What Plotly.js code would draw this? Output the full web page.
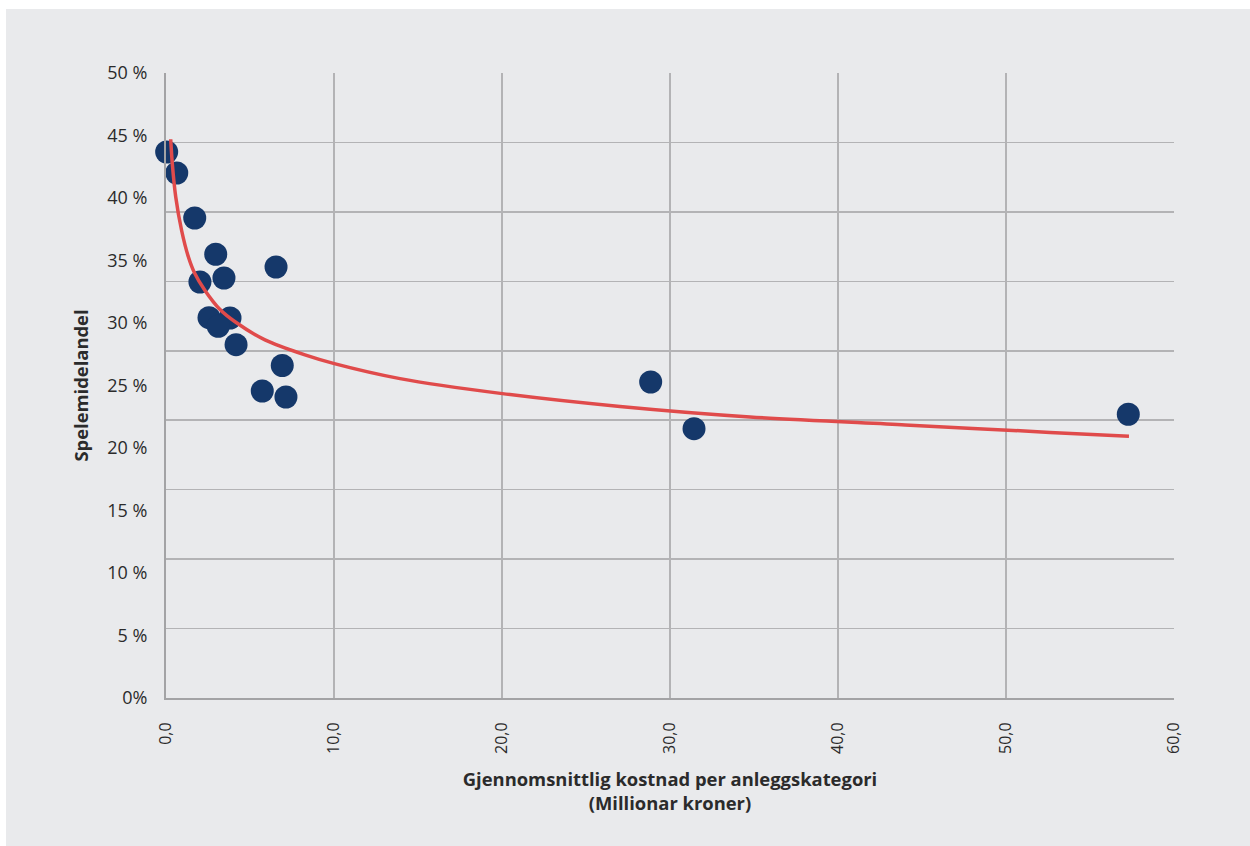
<!DOCTYPE html>
<html><head><meta charset="utf-8">
<script src="https://cdn.plot.ly/plotly-3.0.1.min.js"></script>
<style>
html,body{margin:0;padding:0;background:#ffffff;width:1250px;height:846px;overflow:hidden}
#chart{position:absolute;left:6px;top:9px;width:1244px;height:837px}
</style>
</head><body><div id="chart"></div>
<script>
// Average cost per facility category (million NOK) and gaming-fund share
const costX  = [0.04, 0.64, 1.71, 2.96, 2.02, 3.45, 6.55, 2.56, 3.81, 3.11, 4.17, 6.92, 5.73, 7.14, 28.85, 31.43, 57.28];
const shareY = [0.4368, 0.420, 0.384, 0.355, 0.3328, 0.336, 0.3448, 0.3043, 0.304, 0.2974, 0.2827, 0.266, 0.2456, 0.2408, 0.2528, 0.2155, 0.227];

// Trend line
const trendX = [0.28, 0.375, 0.58, 0.93, 1.33, 1.7, 2.32, 3.2, 4.11, 5.89, 8.27, 10.02, 13.93, 20.02, 27.02, 34.76, 44.0, 52.62, 57.32];
const trendY = [0.447, 0.4275, 0.4008, 0.374, 0.353, 0.340, 0.326, 0.311, 0.301, 0.2865, 0.2745, 0.2675, 0.2555, 0.2435, 0.2332, 0.2248, 0.2185, 0.2125, 0.2094];

const xTickVals = [0, 10, 20, 30, 40, 50, 60];
const xTickText = ['0,0', '10,0', '20,0', '30,0', '40,0', '50,0', '60,0'];
const yTickVals = [0, 0.05, 0.10, 0.15, 0.20, 0.25, 0.30, 0.35, 0.40, 0.45, 0.50];
const yTickText = ['0%', '5 %', '10 %', '15 %', '20 %', '25 %', '30 %', '35 %', '40 %', '45 %', '50 %'];
const yGridVals = Array.from({length: 10}, (_, k) => k * 0.5 / 9);

const txt = '#2b2b2b';
const grid = '#b3b3b5';
const font = 'Open Sans, Noto Sans, sans-serif';

const traces = [
  {
    type: 'scatter', mode: 'markers', x: costX, y: shareY,
    marker: {size: 23, color: '#15386a', line: {width: 0}},
    cliponaxis: false, hoverinfo: 'skip', showlegend: false
  },
  {
    type: 'scatter', mode: 'lines', x: trendX, y: trendY,
    line: {color: '#e04b4b', width: 3.5, shape: 'spline', smoothing: 0.8},
    cliponaxis: false, hoverinfo: 'skip', showlegend: false
  },
  {type: 'scatter', x: [], y: [], yaxis: 'y2', hoverinfo: 'skip', showlegend: false}
];

const layout = {
  width: 1244, height: 837,
  paper_bgcolor: '#e9eaec', plot_bgcolor: '#e9eaec',
  margin: {l: 160, r: 76, t: 64, b: 148},
  font: {family: font, color: txt},
  showlegend: false,
  xaxis: {
    range: [0, 60], tickvals: xTickVals, ticktext: xTickText, tickangle: -90,
    tickfont: {size: 16, color: txt},
    showgrid: true, gridcolor: grid, gridwidth: 1.5,
    zeroline: false, showline: true, linecolor: '#a3a3a5', linewidth: 2,
    ticks: 'outside', ticklen: 16, tickcolor: 'rgba(0,0,0,0)',
    title: {text: '<b>Gjennomsnittlig kostnad per anleggskategori</b><br><b>(Millionar kroner)</b>',
            font: {size: 18.4, color: txt}, standoff: 20},
    automargin: false
  },
  yaxis: {
    range: [0, 0.5], tickvals: yGridVals, showticklabels: false,
    showgrid: true, gridcolor: grid, gridwidth: 1.5,
    zeroline: false, showline: true, linecolor: '#a3a3a5', linewidth: 2,
    ticks: '', automargin: false
  },
  yaxis2: {
    overlaying: 'y', side: 'left', range: [0, 0.5],
    tickvals: yTickVals, ticktext: yTickText,
    tickfont: {size: 18, color: txt},
    showgrid: false, zeroline: false, showline: false,
    ticks: 'outside', ticklen: 14, tickcolor: 'rgba(0,0,0,0)',
    title: {text: '<b>Spelemidelandel</b>', font: {size: 18.4, color: txt}, standoff: 13},
    automargin: false
  }
};

Plotly.newPlot('chart', traces, layout, {displayModeBar: false, staticPlot: true});
</script>
</body></html>
